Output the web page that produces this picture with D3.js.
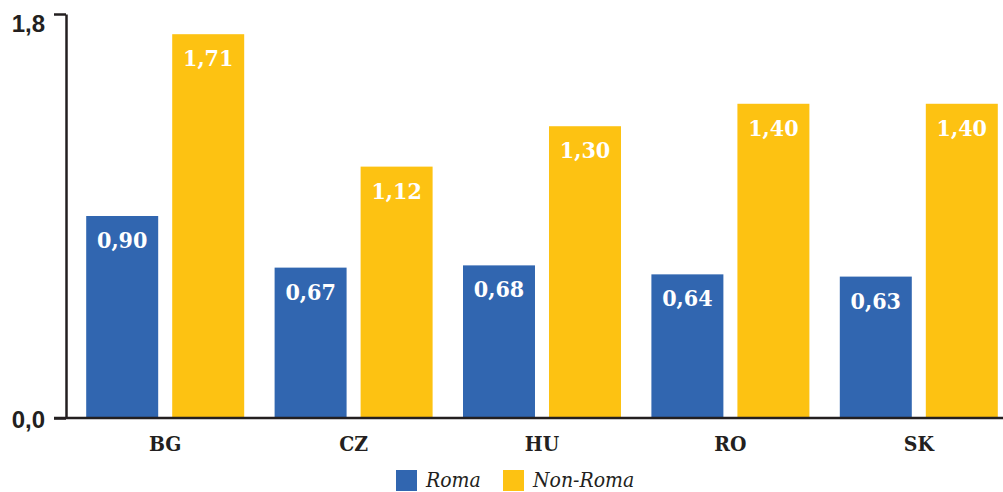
<!DOCTYPE html>
<html>
<head>
<meta charset="utf-8">
<script src="https://d3js.org/d3.v7.min.js"></script>
<style>
  body { margin: 0; background: #fff; }
  svg { display: block; font-family: "DejaVu Serif Condensed", "DejaVu Serif", serif; font-stretch: condensed; }
</style>
</head>
<body>
<svg id="chart"></svg>
<script>
// data
const categories = ['BG', 'CZ', 'HU', 'RO', 'SK'];
const series = ['Roma', 'Non-Roma'];
const roma = [0.90, 0.67, 0.68, 0.64, 0.63];
const nonRoma = [1.71, 1.12, 1.30, 1.40, 1.40];
const yTicks = [0, 1.8];

const W = 1003, H = 492;
const colors = { 'Roma': '#3166b0', 'Non-Roma': '#fdc212' };
const TEXT = '#231f20';

const svg = d3.select('svg#chart').attr('width', W).attr('height', H);

const y = d3.scaleLinear().domain([0, 1.8]).range([418, 14]);
const x0 = d3.scaleBand().domain(categories).range([71, 1013]);
const x1 = d3.scaleBand().domain(series).range([-79, 79]).paddingInner(0.163);

const fmt = v => d3.format('.2f')(v).replace('.', ',');
const rows = categories.map((c, i) => ({ cat: c, values: [
  { s: 'Roma', v: roma[i] }, { s: 'Non-Roma', v: nonRoma[i] }] }));

// bars
const groups = svg.append('g').selectAll('g').data(rows).enter().append('g')
  .attr('transform', d => `translate(${x0(d.cat) + x0.bandwidth() / 2},0)`);

groups.selectAll('rect').data(d => d.values).enter().append('rect')
  .attr('x', d => x1(d.s))
  .attr('y', d => y(d.v))
  .attr('width', x1.bandwidth())
  .attr('height', d => y(0) - y(d.v))
  .attr('fill', d => colors[d.s]);

groups.selectAll('text.val').data(d => d.values).enter().append('text')
  .attr('class', 'val')
  .attr('x', d => x1(d.s) + x1.bandwidth() / 2)
  .attr('y', d => y(d.v) + 32)
  .attr('text-anchor', 'middle')
  .attr('fill', '#fff')
  .attr('font-weight', 'bold')
  .attr('font-size', '23px')
  .text(d => fmt(d.v));

// y axis
const yAxis = d3.axisLeft(y).tickValues(yTicks).tickSize(12).tickSizeOuter(0)
  .tickFormat(d => d3.format('.1f')(d).replace('.', ','));
const ya = svg.append('g').attr('transform', 'translate(66,0)').call(yAxis);
ya.select('.domain').attr('stroke', TEXT).attr('stroke-width', 2.5);
ya.selectAll('.tick line').attr('stroke', TEXT).attr('stroke-width', 2.5);
ya.selectAll('.tick text').attr('fill', TEXT).attr('font-size', '24px')
  .attr('font-weight', 'bold').attr('font-family', null)
  .attr('x', -21)
  .attr('y', d => d === 1.8 ? 9 : 1)  // top label sits below its tick
  .attr('dy', '0.35em');

// baseline
svg.append('line').attr('x1', 54).attr('x2', W).attr('y1', y(0)).attr('y2', y(0))
  .attr('stroke', TEXT).attr('stroke-width', 2.5);

// category labels
svg.append('g').selectAll('text').data(categories).enter().append('text')
  .attr('x', d => x0(d) + x0.bandwidth() / 2)
  .attr('y', 451)
  .attr('text-anchor', 'middle')
  .attr('fill', TEXT)
  .attr('font-weight', 'bold')
  .attr('font-size', '21px')
  .text(d => d);

// legend
const legend = svg.append('g').attr('transform', 'translate(396,470)');
const lx = [0, 107];
series.forEach((s, i) => {
  const g = legend.append('g').attr('transform', `translate(${lx[i]},0)`);
  g.append('rect').attr('width', 21).attr('height', 21).attr('fill', colors[s]);
  g.append('text').attr('x', 30).attr('y', 17)
    .attr('fill', TEXT).attr('font-style', 'italic').attr('font-size', '21px')
    .text(s);
});
</script>
</body>
</html>
